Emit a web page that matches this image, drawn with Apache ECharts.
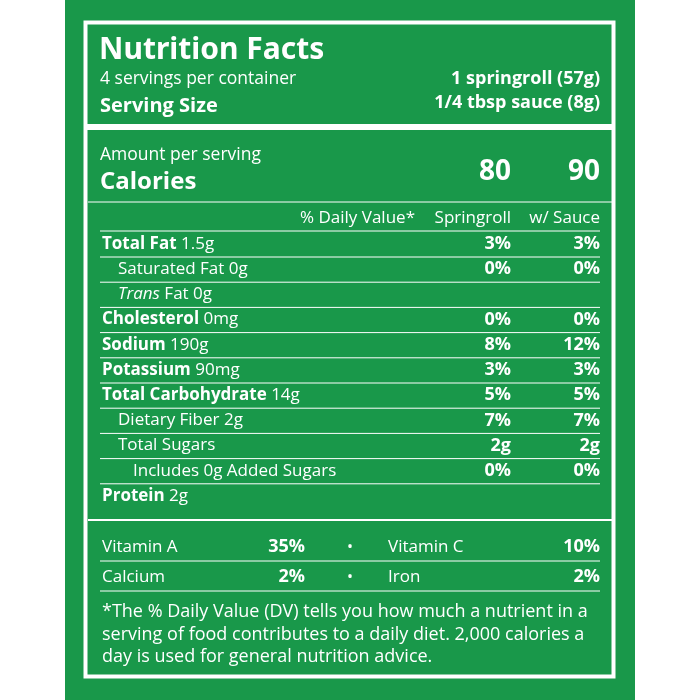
<!DOCTYPE html>
<html><head><meta charset="utf-8">
<script src="https://cdn.jsdelivr.net/npm/echarts@6/dist/echarts.min.js"></script>
<style>html,body{margin:0;padding:0;background:#fff}#c{width:700px;height:700px}</style>
</head><body><div id="c"></div>
<script>
const nutrients = [
  {name:'Total Fat', amt:' 1.5g', lvl:0, bold:true},
  {name:'Saturated Fat', amt:' 0g', lvl:1},
  {name:'Trans', amt:' Fat 0g', lvl:1, italic:true},
  {name:'Cholesterol', amt:' 0mg', lvl:0, bold:true},
  {name:'Sodium', amt:' 190g', lvl:0, bold:true},
  {name:'Potassium', amt:' 90mg', lvl:0, bold:true},
  {name:'Total Carbohydrate', amt:' 14g', lvl:0, bold:true},
  {name:'Dietary Fiber', amt:' 2g', lvl:1},
  {name:'Total Sugars', amt:'', lvl:1},
  {name:'Includes 0g Added Sugars', amt:'', lvl:2},
  {name:'Protein', amt:' 2g', lvl:0, bold:true}
];
const springroll = ['3%','0%','','0%','8%','3%','5%','7%','2g','0%',''];
const withSauce  = ['3%','0%','','0%','12%','3%','5%','7%','2g','0%',''];
const calories = ['80','90'];
const vitamins = [['Vitamin A','35%','Vitamin C','10%'],['Calcium','2%','Iron','2%']];
const footnote = ['*The % Daily Value (DV) tells you how much a nutrient in a','serving of food contributes to a daily diet. 2,000 calories a','day is used for general nutrition advice.'];

const F = '"Open Sans","Noto Sans",sans-serif';
const W = '#fff';
const g = [];
function txt(x,y,t,size,opt={}){ g.push({type:'text',x,y,style:Object.assign({text:t,fill:W,font:(opt.italic?'italic ':'')+(opt.bold?'bold ':'')+size+'px '+F,textAlign:opt.align||'left',textVerticalAlign:'middle'},opt.style||{})}); }
function rect(x,y,w,h,fill){ g.push({type:'rect',shape:{x,y,width:w,height:h},style:{fill}}); }
function line(x1,y,x2,w){ g.push({type:'line',shape:{x1,y1:y,x2,y2:y},style:{stroke:W,lineWidth:w}}); }

rect(65,0,570,700,'#19984a');
g.push({type:'rect',shape:{x:85.5,y:22.5,width:528,height:654},style:{fill:'none',stroke:W,lineWidth:4}});
rect(86,124,526,6,W);
txt(99,50,'Nutrition Facts',30,{style:{font:'bold 30px "Noto Sans",sans-serif'}});
txt(100,79,'4 servings per container',17.5);
txt(100,106,'Serving Size',20,{bold:true});
txt(600,79,'1 springroll (57g)',18,{bold:true,align:'right'});
txt(600,103,'1/4 tbsp sauce (8g)',18,{bold:true,align:'right'});
txt(100,155,'Amount per serving',17.5);
txt(100,182,'Calories',24,{bold:true});
txt(511,172,calories[0],28,{bold:true,align:'right'});
txt(600,172,calories[1],28,{bold:true,align:'right'});
line(88,202,612,1);
txt(415,218,'% Daily Value*',17,{align:'right'});
txt(511,218,'Springroll',17,{align:'right'});
txt(600,218,'w/ Sauce',17,{align:'right'});
line(100,231,600,1);
nutrients.forEach((n,i)=>{
  const y=244+i*25.2;
  const x=[102,118,133][n.lvl];
  g.push({type:'text',x,y,style:{text:'{a|'+n.name+'}{b|'+n.amt+'}',fill:W,textVerticalAlign:'middle',
    rich:{a:{fill:W,font:(n.italic?'italic ':'')+(n.bold?'bold ':'')+'17px '+F},b:{fill:W,font:'17px '+F}}}});
  txt(511,y,springroll[i],18,{bold:true,align:'right'});
  txt(600,y,withSauce[i],18,{bold:true,align:'right'});
  if(i<nutrients.length-1) line(100,y+13,600,1);
});
line(88,520,612,2);
vitamins.forEach((v,i)=>{
  const y=547+i*30;
  txt(102,y,v[0],17); txt(305,y,v[1],18,{bold:true,align:'right'});
  txt(350,y,'•',16,{align:'center'});
  txt(388,y,v[2],17); txt(600,y,v[3],18,{bold:true,align:'right'});
  line(100,y+14,600,1);
});
footnote.forEach((t,i)=>txt(102,612+i*22.5,t,18));

const chart = echarts.init(document.getElementById('c'));
chart.setOption({backgroundColor:'#fff',graphic:g});
</script></body></html>
